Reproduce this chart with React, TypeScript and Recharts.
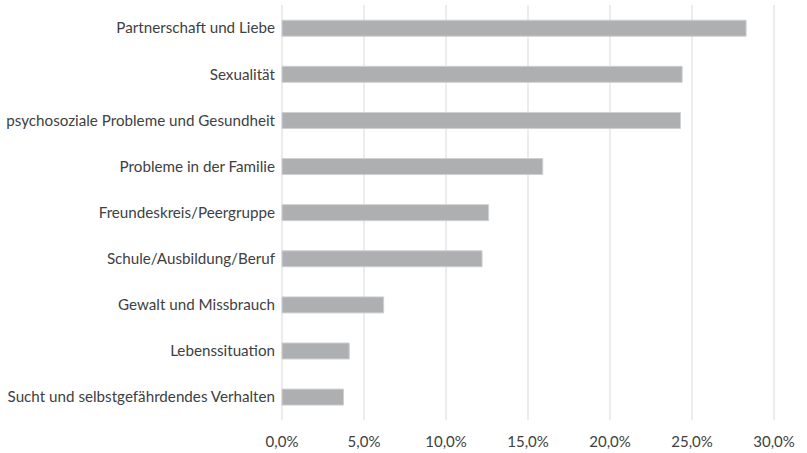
import React from 'react';
import { BarChart, Bar, XAxis, YAxis, CartesianGrid } from 'recharts';

const categories = [
  'Partnerschaft und Liebe',
  'Sexualität',
  'psychosoziale Probleme und Gesundheit',
  'Probleme in der Familie',
  'Freundeskreis/Peergruppe',
  'Schule/Ausbildung/Beruf',
  'Gewalt und Missbrauch',
  'Lebenssituation',
  'Sucht und selbstgefährdendes Verhalten',
];
const values = [28.3, 24.4, 24.3, 15.9, 12.6, 12.2, 6.2, 4.1, 3.75];
const xTicks = [0, 5, 10, 15, 20, 25, 30];

const data = categories.map((c, i) => ({ name: c, value: values[i] }));

const fmt = (v: number) => `${v.toFixed(1).replace('.', ',')}%`;

export default function App() {
  return (
    <div style={{ position: 'absolute', left: 0, top: 0, background: '#fff' }}>
      <BarChart
        width={807}
        height={453}
        data={data}
        layout="vertical"
        margin={{ top: 5, right: 33, bottom: 0, left: 0 }}
        barCategoryGap="33%"
      >
        <CartesianGrid horizontal={false} stroke="#d9d9d9" />
        <XAxis
          type="number"
          domain={[0, 30]}
          ticks={xTicks}
          tickFormatter={fmt}
          axisLine={false}
          tickLine={false}
          height={33}
          tick={{ fill: '#404040', fontSize: 15, fontFamily: 'Lato' }}
          tickMargin={10}
        />
        <YAxis
          type="category"
          dataKey="name"
          width={282}
          axisLine={false}
          tickLine={false}
          tick={{ fill: '#404040', fontSize: 15.2, fontFamily: 'Lato' }}
          tickMargin={1}
        />
        <Bar dataKey="value" fill="#aeafb1" stroke="#d0d0d2" strokeWidth={1} isAnimationActive={false} />
      </BarChart>
    </div>
  );
}
